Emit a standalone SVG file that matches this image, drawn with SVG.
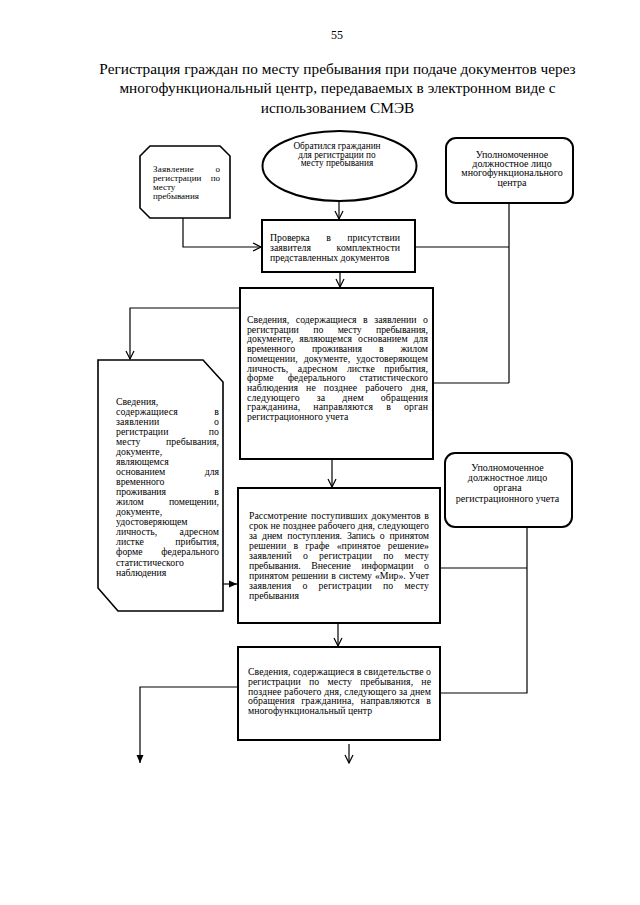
<svg xmlns="http://www.w3.org/2000/svg" width="640" height="905" viewBox="0 0 640 905">
<style>
text{font-family:"Liberation Serif","Times New Roman",serif;fill:#000}
.t{font-size:9.8px}
.z{font-size:9px}
.s{font-size:9.3px}
.r{font-size:10px;text-anchor:middle}
.title{font-size:15.3px;text-anchor:middle}
.box{fill:#fff;stroke:#000;stroke-width:2}
.thin{fill:#fff;stroke:#000;stroke-width:1.6}
.ln{fill:none;stroke:#000;stroke-width:1.2}
</style>
<defs>
<marker id="ao" viewBox="-10 -6 12 12" refX="0" refY="0" markerWidth="12" markerHeight="12" markerUnits="userSpaceOnUse" orient="auto">
<path d="M-8,-4 L0,0 L-8,4" fill="none" stroke="#000" stroke-width="1.2"/>
</marker>
<marker id="af" viewBox="-10 -6 12 12" refX="0" refY="0" markerWidth="12" markerHeight="12" markerUnits="userSpaceOnUse" orient="auto">
<path d="M-8,-3.5 L0,0 L-8,3.5 Z" fill="#000"/>
</marker>
</defs>
<rect width="640" height="905" fill="#fff"/>

<text x="337" y="39" style="font-size:12px;text-anchor:middle">55</text>
<g id="title">
<text class="title" x="337.5" y="74">Регистрация граждан по месту пребывания при подаче документов через</text>
<text class="title" x="337.5" y="93.3">многофункциональный центр, передаваемых в электронном виде с</text>
<text class="title" x="337.5" y="112.5">использованием СМЭВ</text>
</g>

<g id="connectors">
<path class="ln" d="M339,201 L339,219" marker-end="url(#ao)"/>
<path class="ln" d="M183,218 L183,247 L261,247" marker-end="url(#ao)"/>
<path class="ln" d="M509,203 L509,383 M415,247 L509,247 M433,383 L509,383"/>
<path class="ln" d="M340,272 L340,287" marker-end="url(#ao)"/>
<path class="ln" d="M240,308 L130,308 L130,359" marker-end="url(#ao)"/>
<path class="ln" d="M332,459 L332,487" marker-end="url(#ao)"/>
<path class="ln" d="M223,584 L237,584" marker-end="url(#af)"/>
<path class="ln" d="M527,527 L527,693 L440,693 M440,568 L527,568"/>
<path class="ln" d="M338,623 L338,646" marker-end="url(#ao)"/>
<path class="ln" d="M238,687 L140,687 L140,763" marker-end="url(#af)"/>
<path class="ln" d="M349,744 L349,763" marker-end="url(#ao)"/>
</g>

<g id="start">
<ellipse class="box" cx="339.5" cy="166" rx="77" ry="35"/>
<text class="s" x="337" y="149" text-anchor="middle">Обратился гражданин</text>
<text class="s" x="337" y="157.5" text-anchor="middle">для регистрации по</text>
<text class="s" x="337" y="166" text-anchor="middle">месту пребывания</text>
</g>

<g id="application">
<path class="thin" d="M150,146 L220,146 L230,156 L230,218 L150,218 L140,208 L140,156 Z"/>
<text class="z" x="153" y="171.5" style="word-spacing:19px" textLength="67" lengthAdjust="spacing">Заявление о</text>
<text class="z" x="153" y="180.6" style="word-spacing:7px" textLength="67" lengthAdjust="spacing">регистрации по</text>
<text class="z" x="153" y="189.7">месту</text>
<text class="z" x="153" y="198.8">пребывания</text>
</g>

<g id="mfc-officer">
<rect class="box" x="446" y="138" width="127" height="65" rx="10"/>
<text class="r" x="512" y="157.5">Уполномоченное</text>
<text class="r" x="512" y="166.9">должностное лицо</text>
<text class="r" x="512" y="176.3">многофункционального</text>
<text class="r" x="512" y="185.7">центра</text>
</g>

<g id="check">
<rect class="box" x="262" y="220" width="153" height="52"/>
<text class="t" x="270" y="240.5" style="word-spacing:14px" textLength="130" lengthAdjust="spacing">Проверка в присутствии</text>
<text class="t" x="270" y="250.5" style="word-spacing:23px" textLength="130" lengthAdjust="spacing">заявителя комплектности</text>
<text class="t" x="270" y="260.5">представленных документов</text>
</g>

<g id="send-info">
<rect class="box" x="240" y="288" width="193" height="171"/>
<text class="t" x="247" y="323" style="word-spacing:4px" textLength="181" lengthAdjust="spacing">Сведения, содержащиеся в заявлении о</text>
<text class="t" x="247" y="332.7" style="word-spacing:12px" textLength="181" lengthAdjust="spacing">регистрации по месту пребывания,</text>
<text class="t" x="247" y="342.4" style="word-spacing:3.5px" textLength="181" lengthAdjust="spacing">документе, являющемся основанием для</text>
<text class="t" x="247" y="352.1" style="word-spacing:14.5px" textLength="181" lengthAdjust="spacing">временного проживания в жилом</text>
<text class="t" x="247" y="361.8" style="word-spacing:3.5px" textLength="181" lengthAdjust="spacing">помещении, документе, удостоверяющем</text>
<text class="t" x="247" y="371.5" style="word-spacing:7px" textLength="181" lengthAdjust="spacing">личность, адресном листке прибытия,</text>
<text class="t" x="247" y="381.2" style="word-spacing:11.5px" textLength="181" lengthAdjust="spacing">форме федерального статистического</text>
<text class="t" x="247" y="390.9" style="word-spacing:5.5px" textLength="181" lengthAdjust="spacing">наблюдения не позднее рабочего дня,</text>
<text class="t" x="247" y="400.6" style="word-spacing:14.5px" textLength="181" lengthAdjust="spacing">следующего за днем обращения</text>
<text class="t" x="247" y="410.3" style="word-spacing:10.5px" textLength="181" lengthAdjust="spacing">гражданина, направляются в орган</text>
<text class="t" x="247" y="420">регистрационного учета</text>
</g>

<g id="info-doc">
<path class="thin" d="M98,360 L203,360 L223,382 L223,611 L118,611 L98,588 Z"/>
<text class="t" x="116" y="404.5">Сведения,</text>
<text class="t" x="116" y="414.6" style="word-spacing:34px" textLength="103" lengthAdjust="spacing">содержащиеся в</text>
<text class="t" x="116" y="424.6" style="word-spacing:52px" textLength="103" lengthAdjust="spacing">заявлении о</text>
<text class="t" x="116" y="434.7" style="word-spacing:38px" textLength="103" lengthAdjust="spacing">регистрации по</text>
<text class="t" x="116" y="444.7" style="word-spacing:23px" textLength="103" lengthAdjust="spacing">месту пребывания,</text>
<text class="t" x="116" y="454.8">документе,</text>
<text class="t" x="116" y="464.9">являющемся</text>
<text class="t" x="116" y="474.9" style="word-spacing:37px" textLength="103" lengthAdjust="spacing">основанием для</text>
<text class="t" x="116" y="485">временного</text>
<text class="t" x="116" y="495" style="word-spacing:46px" textLength="103" lengthAdjust="spacing">проживания в</text>
<text class="t" x="116" y="505.1" style="word-spacing:23px" textLength="103" lengthAdjust="spacing">жилом помещении,</text>
<text class="t" x="116" y="515.2">документе,</text>
<text class="t" x="116" y="525.2">удостоверяющем</text>
<text class="t" x="116" y="535.3" style="word-spacing:20px" textLength="103" lengthAdjust="spacing">личность, адресном</text>
<text class="t" x="116" y="545.3" style="word-spacing:29px" textLength="103" lengthAdjust="spacing">листке прибытия,</text>
<text class="t" x="116" y="555.4" style="word-spacing:16px" textLength="103" lengthAdjust="spacing">форме федерального</text>
<text class="t" x="116" y="565.5">статистического</text>
<text class="t" x="116" y="575.5">наблюдения</text>
</g>

<g id="review">
<rect class="box" x="238" y="488" width="202" height="135"/>
<text class="t" x="249" y="519" style="word-spacing:1.3px" textLength="180" lengthAdjust="spacing">Рассмотрение поступивших документов в</text>
<text class="t" x="249" y="529" textLength="180" lengthAdjust="spacing">срок не позднее рабочего дня, следующего</text>
<text class="t" x="249" y="539" style="word-spacing:2.6px" textLength="180" lengthAdjust="spacing">за днем поступления. Запись о принятом</text>
<text class="t" x="249" y="549" style="word-spacing:4.7px" textLength="180" lengthAdjust="spacing">решении в графе «принятое решение»</text>
<text class="t" x="249" y="559" style="word-spacing:8.5px" textLength="180" lengthAdjust="spacing">заявлений о регистрации по месту</text>
<text class="t" x="249" y="569" style="word-spacing:8.3px" textLength="180" lengthAdjust="spacing">пребывания. Внесение информации о</text>
<text class="t" x="249" y="579" style="word-spacing:0.6px" textLength="180" lengthAdjust="spacing">принятом решении в систему «Мир». Учет</text>
<text class="t" x="249" y="589" style="word-spacing:8.5px" textLength="180" lengthAdjust="spacing">заявления о регистрации по месту</text>
<text class="t" x="249" y="599">пребывания</text>
</g>

<g id="reg-officer">
<rect class="box" x="445" y="453" width="127" height="74" rx="10"/>
<text class="r" x="507.5" y="470.8">Уполномоченное</text>
<text class="r" x="507.5" y="481">должностное лицо</text>
<text class="r" x="507.5" y="491.3">органа</text>
<text class="r" x="507.5" y="501.5">регистрационного учета</text>
</g>

<g id="certificate">
<rect class="box" x="238" y="647" width="202" height="93"/>
<text class="t" x="248" y="675.3" textLength="183" lengthAdjust="spacing">Сведения, содержащиеся в свидетельстве о</text>
<text class="t" x="248" y="684.9" style="word-spacing:5.7px" textLength="183" lengthAdjust="spacing">регистрации по месту пребывания,  не</text>
<text class="t" x="248" y="694.5" textLength="183" lengthAdjust="spacing">позднее рабочего дня, следующего за днем</text>
<text class="t" x="248" y="704.1" style="word-spacing:4px" textLength="183" lengthAdjust="spacing">обращения гражданина, направляются в</text>
<text class="t" x="248" y="713.7">многофункциональный центр</text>
</g>
</svg>
